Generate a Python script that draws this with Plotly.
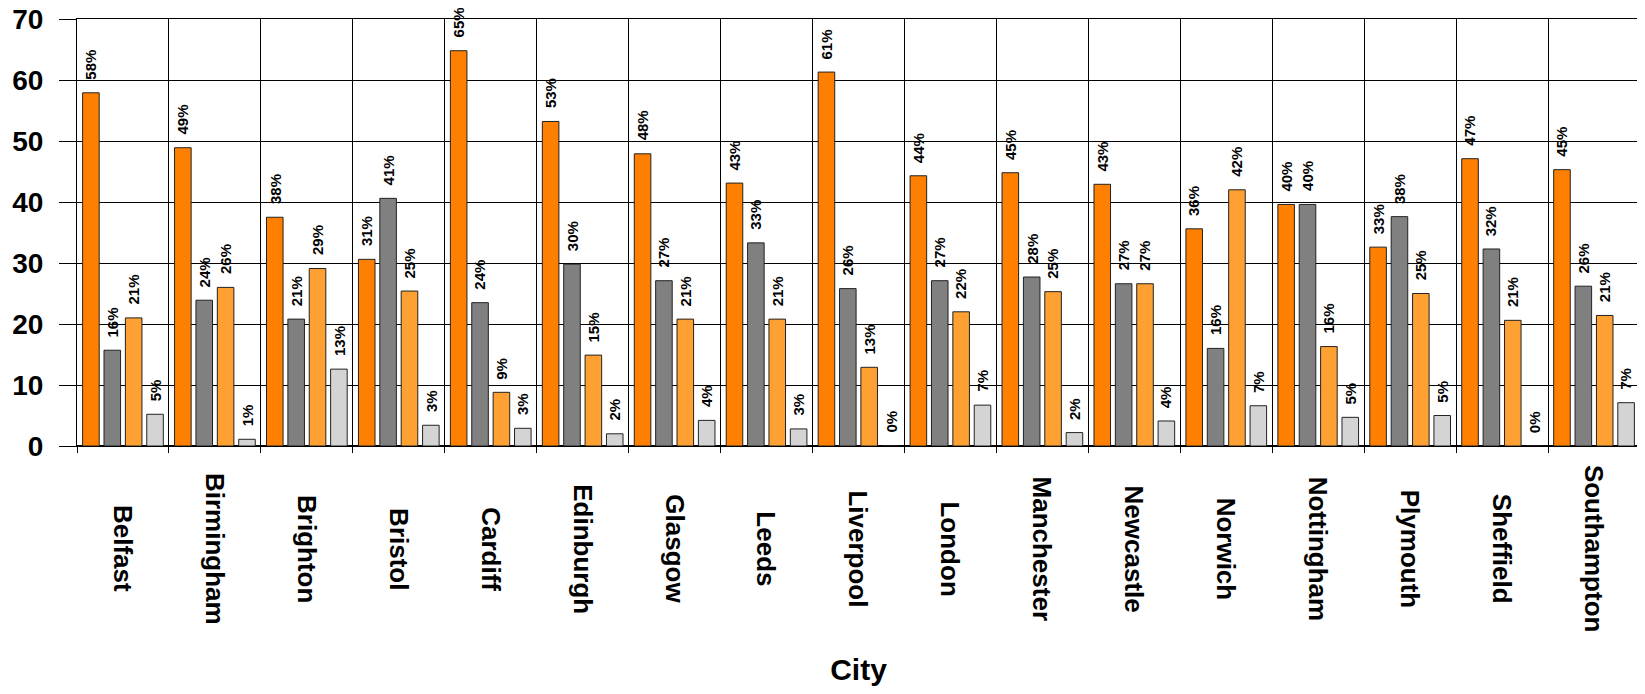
import plotly.graph_objects as go

cities = ["Belfast", "Birmingham", "Brighton", "Bristol", "Cardiff", "Edinburgh",
          "Glasgow", "Leeds", "Liverpool", "London", "Manchester", "Newcastle",
          "Norwich", "Nottingham", "Plymouth", "Sheffield", "Southampton"]

series1 = [57.9, 48.9, 37.5, 30.6, 64.8, 53.2, 47.9, 43.1, 61.3, 44.3, 44.8, 42.9,
           35.6, 39.6, 32.6, 47.1, 45.3]
series2 = [15.7, 23.9, 20.8, 40.6, 23.5, 29.8, 27.1, 33.3, 25.8, 27.1, 27.7, 26.6,
           16.0, 39.6, 37.6, 32.3, 26.2]
series3 = [21.0, 26.0, 29.1, 25.4, 8.8, 14.9, 20.8, 20.8, 12.9, 22.0, 25.3, 26.6,
           42.0, 16.3, 25.0, 20.6, 21.4]
series4 = [5.2, 1.1, 12.6, 3.4, 2.9, 2.0, 4.2, 2.8, 0.0, 6.7, 2.2, 4.1,
           6.6, 4.7, 5.0, 0.0, 7.1]

series = [series1, series2, series3, series4]
colors = ["#FF8000", "#808080", "#FFA033", "#D4D4D4"]

# page body has an 8px default margin; the figure is sized to fit the window
W, H = 1637, 678
ML, MR, MT, MB = 69, 5, 11, 240
BARGAP = 0.07
BARGROUPGAP = 0.225
FONT = "Arial, Liberation Sans, sans-serif"

fig = go.Figure()
for vals, col in zip(series, colors):
    fig.add_trace(go.Bar(
        x=cities, y=vals,
        marker=dict(color=col, line=dict(color="#222222", width=1)),
        showlegend=False,
        hoverinfo="x+y",
    ))

# data labels above bars
plot_w = W - ML - MR
cat_w = plot_w / len(cities)
slot = cat_w * (1 - BARGAP) / len(series)
annotations = []
for si, vals in enumerate(series):
    dx = (si - (len(series) - 1) / 2) * slot
    for c, v in zip(cities, vals):
        annotations.append(dict(
            x=c, y=v, xref="x", yref="y",
            text=f"{int(v + 0.5)}%", showarrow=False, textangle=-90,
            xanchor="center", yanchor="bottom", xshift=dx, yshift=11,
            font=dict(family=FONT, size=15, color="black", weight="bold"),
        ))

# category labels (vertical, centered)
for c in cities:
    annotations.append(dict(
        x=c, y=-0.241, xref="x", yref="paper",
        text=c, showarrow=False, textangle=90,
        xanchor="center", yanchor="middle",
        font=dict(family=FONT, size=26, color="black", weight="bold"),
    ))

fig.update_layout(
    width=W, height=H,
    margin=dict(l=ML, r=MR, t=MT, b=MB, autoexpand=False),
    paper_bgcolor="white", plot_bgcolor="white",
    barmode="group", bargap=BARGAP, bargroupgap=BARGROUPGAP,
    annotations=annotations,
    font=dict(family=FONT, color="black"),
)

fig.update_xaxes(
    type="category", tickson="boundaries",
    showticklabels=False, ticks="outside", ticklen=6, tickcolor="black",
    showgrid=True, gridcolor="black", gridwidth=1,
    showline=True, linecolor="black", linewidth=1, mirror=True,
    title=dict(text="City", standoff=217,
               font=dict(family=FONT, size=30, color="black", weight="bold")),
    automargin=False,
)
fig.update_yaxes(
    range=[0, 70], dtick=10,
    ticks="outside", ticklen=17, tickcolor="black",
    tickfont=dict(family=FONT, size=28, color="black", weight="bold"),
    ticklabelstandoff=10, ticklabeloverflow="allow",
    showgrid=True, gridcolor="black", gridwidth=1,
    zeroline=True, zerolinecolor="black",
    showline=True, linecolor="black", linewidth=1, mirror=True,
    automargin=False,
)

fig.write_html("out.html")
